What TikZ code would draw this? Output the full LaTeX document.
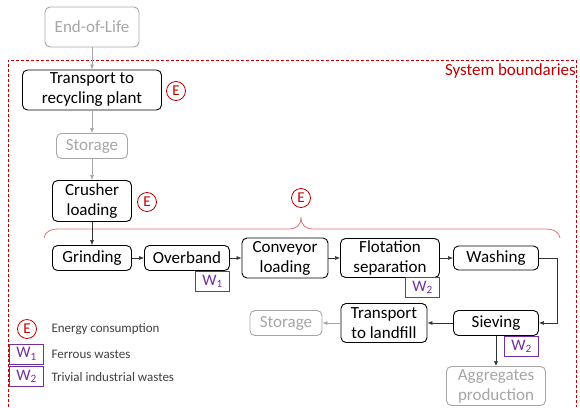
\documentclass[tikz,border=0pt]{standalone}
\usepackage{fontspec}
\setmainfont{Carlito}
\usetikzlibrary{arrows.meta, positioning}
\definecolor{ered}{HTML}{C00000}
\definecolor{wpurple}{HTML}{7030A0}
\definecolor{lgray}{HTML}{A6A6A6}
\definecolor{bred}{HTML}{E07070}

\begin{document}
\begin{tikzpicture}[
		x=1pt, y=-1pt,
		block/.style={draw=black, rounded corners=5pt, line width=0.9pt, align=center, inner sep=0pt, font=\fontsize{17}{20}\selectfont},
		greyblock/.style={block, draw=lgray, text=lgray},
		energy/.style={circle, draw=ered, text=ered, line width=0.8pt, minimum size=19pt, inner sep=0pt, font=\fontsize{15}{15}\selectfont},
		waste/.style={draw=wpurple, text=wpurple, line width=0.8pt, minimum width=34pt, minimum height=20pt, inner sep=0pt, font=\fontsize{16}{16}\selectfont},
		legend/.style={anchor=west, text=black!75, font=\fontsize{13}{14}\selectfont},
		flow/.style={-{Latex[length=5pt,width=4pt]}, line width=0.6pt, black!80},
		greyflow/.style={flow, lgray},
		bound/.style={draw=ered, dash pattern=on 3pt off 2pt, line width=0.8pt}
		]
		\useasboundingbox (0,0) rectangle (580,407);
		
		% System boundaries
		\draw[bound] (8,407) -- (8,60) -- (576,60) -- (576,407);
		\node[anchor=east, text=ered, font=\fontsize{17}{18}\selectfont, inner sep=0pt] (sysb) at (576,71) {System boundaries};
		
		% Positions of the nodes
		\node[greyblock, minimum width=94pt, minimum height=40pt] (eol) at (92,27) {End-of-Life};
		\node[block, minimum width=139pt, minimum height=40pt] (transport) at (92,90) {Transport to\\recycling plant};
		\node[greyblock, minimum width=71pt, minimum height=25pt] (storage) at (92,146) {Storage};
		\node[block, minimum width=79pt, minimum height=41pt] (crusher) at (92,201) {Crusher\\loading};
		\node[block, minimum width=79pt, minimum height=25pt] (grinding) at (92,258) {Grinding};
		\node[block, minimum width=85pt, minimum height=25pt] (overband) at (187,258) {Overband};
		\node[block, minimum width=86pt, minimum height=40pt] (conveyor) at (285,258) {Conveyor\\loading};
		\node[block, minimum width=99pt, minimum height=39pt] (flotation) at (390,258) {Flotation\\separation};
		\node[block, minimum width=85pt, minimum height=24pt] (washing) at (496,258) {Washing};
		\node[block, minimum width=85pt, minimum height=25pt] (sieving) at (496,323) {Sieving};
		\node[block, minimum width=86pt, minimum height=39pt] (landfill) at (384,323) {Transport\\to landfill};
		\node[greyblock, minimum width=72pt, minimum height=25pt] (storage2) at (286,323) {Storage};
		\node[greyblock, minimum width=99pt, minimum height=39pt] (aggregates) at (496,386) {Aggregates\\production};
		
		% Energy and wastes
		\node[energy] (e1) at (176,91) {E};
		\node[energy] (e2) at (147,202) {E};
		\node[energy] (e3) at (301,198) {E};
		\node[waste, anchor=north east] (w1) at (overband.south east) {W\textsubscript{1}};
		\node[waste, anchor=north east] (w2a) at ([yshift=1pt]flotation.south east) {W\textsubscript{2}};
		\node[waste, anchor=north east] (w2b) at (sieving.south east) {W\textsubscript{2}};
		
		% Brace over the crushing line
		\draw[bred, line width=0.8pt] (44,238) .. controls (46,230) and (52,229) .. (60,229) -- (288,229)
		.. controls (296,229) and (301,226) .. (301,217) .. controls (301,226) and (306,229) .. (314,229)
		-- (544,229) .. controls (552,229) and (558,230) .. (560,238);
		
		% Flows
		\draw[greyflow] (eol) -- (transport);
		\draw[greyflow] (transport) -- (storage);
		\draw[greyflow] (storage) -- (crusher);
		\draw[flow] (crusher) -- (grinding);
		\draw[flow] (grinding) -- (overband);
		\draw[flow] (overband) -- (conveyor);
		\draw[flow] (conveyor) -- (flotation);
		\draw[flow] (flotation) -- (washing);
		\draw[flow] (washing.east) -- ++(18,0) |- (sieving.east);
		\draw[flow] (sieving) -- (landfill);
		\draw[greyflow] (landfill) -- (storage2);
		\draw[flow] (sieving) -- (aggregates);
		
		% Legend
		\node[energy] (le) at (27,329) {E};
		\node[waste] (lw1) at (26.5,354) {W\textsubscript{1}};
		\node[waste] (lw2) at (26.5,376.5) {W\textsubscript{2}};
		\node[legend] (lte) at (48,329) {Energy consumption};
		\node[legend] (ltw1) at (48,354) {Ferrous wastes};
		\node[legend] (ltw2) at (48,377) {Trivial industrial wastes};
		
	\end{tikzpicture}
\end{document}
